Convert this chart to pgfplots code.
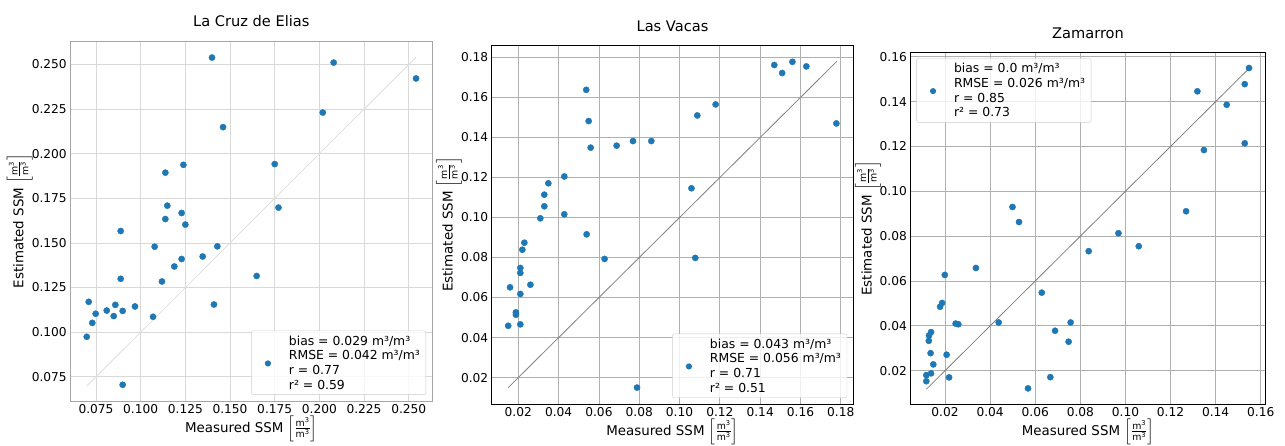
\documentclass[border=0pt]{standalone}
\usepackage{amsmath}
\usepackage{fontspec}
\setmainfont{DejaVu Sans}
\usepackage{pgfplots}
\pgfplotsset{compat=1.18}
\definecolor{mplblue}{HTML}{1F77B4}
\newcommand{\unitfrac}{$\left[\frac{\text{m}^{\text{3}}}{\text{m}^{\text{3}}}\right]$}

\pgfplotsset{
  ssm/.style={
    scale only axis, anchor=south west,
    scaled ticks=false,
    major tick length=0pt,
    grid=major,
    tick label style={font=\fontsize{12.2}{14}\selectfont,
      /pgf/number format/assume math mode=true,
      /pgf/number format/fixed, /pgf/number format/fixed zerofill,
      /pgf/number format/precision=#1},
    label style={font=\fontsize{13.4}{16}\selectfont, inner sep=0pt},
    title style={font=\fontsize{14.6}{17}\selectfont, at={(axis description cs:0.5,1)}, anchor=base},
    xlabel style={at={([yshift=-31pt]axis description cs:0.5,0)}, anchor=base},
    xlabel={Measured SSM \unitfrac},
    ylabel={Estimated SSM \unitfrac},
    legend style={draw=gray!40, fill=white, fill opacity=0.8, text opacity=1,
      rounded corners=2pt, inner xsep=4.5pt, inner ysep=2.5pt,
      nodes={inner sep=1.5pt}, column sep=7.5pt,
      font=\fontsize{12.4}{14.7}\selectfont},
    legend cell align=left,
    legend image code/.code={%
      \path[draw=none, fill=none] (0pt,-3pt) rectangle (24pt,3pt);
      \fill[mplblue, draw=none, fill opacity=1] (12pt,-0.7pt) circle (3.1pt);},
  },
  pts/.style={only marks, mark=*, mark size=3.1pt, color=mplblue},
}

\pgfplotstableread{
x y
0.1399 0.2539
0.2080 0.2511
0.2541 0.2422
0.2019 0.2231
0.1461 0.2149
0.1750 0.1942
0.1239 0.1938
0.1138 0.1894
0.1149 0.1709
0.1771 0.1698
0.1229 0.1668
0.1138 0.1634
0.1250 0.1603
0.0888 0.1567
0.1078 0.1479
0.1429 0.1481
0.1347 0.1424
0.1229 0.1410
0.1188 0.1368
0.0888 0.1299
0.1649 0.1315
0.1119 0.1284
0.0709 0.1170
0.0858 0.1153
0.1410 0.1155
0.0748 0.1103
0.0810 0.1121
0.0899 0.1119
0.0968 0.1144
0.0849 0.1090
0.1069 0.1086
0.0729 0.1052
0.0698 0.0974
0.0899 0.0705
}\cruz

\pgfplotstableread{
x y
0.1470 0.1762
0.1509 0.1722
0.1560 0.1778
0.1629 0.1755
0.1778 0.1470
0.0537 0.1638
0.0549 0.1482
0.0559 0.1349
0.0688 0.1359
0.0769 0.1382
0.0860 0.1382
0.1179 0.1565
0.1088 0.1510
0.1059 0.1146
0.1078 0.0798
0.0428 0.1205
0.0428 0.1016
0.0349 0.1171
0.0329 0.1114
0.0329 0.1056
0.0309 0.0996
0.0539 0.0916
0.0628 0.0793
0.0230 0.0874
0.0220 0.0839
0.0210 0.0748
0.0210 0.0723
0.0260 0.0664
0.0159 0.0651
0.0210 0.0618
0.0188 0.0526
0.0188 0.0514
0.0150 0.0459
0.0210 0.0466
0.0789 0.0150
}\vacas

\pgfplotstableread{
x y
0.1548 0.1550
0.1529 0.1478
0.1319 0.1446
0.1449 0.1386
0.1348 0.1184
0.1529 0.1214
0.1269 0.0911
0.0969 0.0813
0.1059 0.0755
0.0837 0.0733
0.0499 0.0930
0.0528 0.0863
0.0337 0.0658
0.0199 0.0627
0.0187 0.0502
0.0178 0.0485
0.0629 0.0548
0.0438 0.0415
0.0247 0.0410
0.0259 0.0407
0.0757 0.0415
0.0688 0.0378
0.0748 0.0329
0.0138 0.0372
0.0129 0.0357
0.0128 0.0333
0.0136 0.0278
0.0207 0.0271
0.0148 0.0228
0.0138 0.0188
0.0117 0.0180
0.0117 0.0153
0.0218 0.0170
0.0667 0.0171
0.0568 0.0121
}\zamarron

\begin{document}
\begin{tikzpicture}
\path[use as bounding box] (0pt,0pt) rectangle (1285pt,445pt);

% Panel 1
\begin{axis}[ssm=3, at={(70.3pt,44pt)}, width=362pt, height=360pt,
  xmin=0.0606, xmax=0.2632, ymin=0.0614, ymax=0.2632,
  xtick={0.075,0.1,0.125,0.15,0.175,0.2,0.225,0.25},
  ytick={0.075,0.1,0.125,0.15,0.175,0.2,0.225,0.25},
  axis line style={gray!70, line width=0.8pt},
  major grid style={gray!30, line width=0.8pt},
  title={La Cruz de Elias}, title style={yshift=9pt},
  ylabel style={at={([xshift=-47pt]axis description cs:0,0.5)}, anchor=base},
  legend style={at={(axis description cs:0.983,0.017)}, anchor=south east}]
\addplot[gray!25, line width=0.8pt, forget plot] coordinates {(0.0698,0.0698) (0.2541,0.2541)};
\addplot[pts] table[x=x,y=y] {\cruz};
\addlegendentry{\begin{tabular}[b]{@{}l@{}}bias = 0.029 m³/m³\\RMSE = 0.042 m³/m³\\r = 0.77\\r² = 0.59\end{tabular}}
\end{axis}

% Panel 2
\begin{axis}[ssm=2, at={(491.7pt,41pt)}, width=361.6pt, height=359pt,
  xmin=0.0068, xmax=0.1862, ymin=0.0068, ymax=0.1862,
  xtick={0.02,0.04,0.06,0.08,0.1,0.12,0.14,0.16,0.18},
  ytick={0.02,0.04,0.06,0.08,0.1,0.12,0.14,0.16,0.18},
  axis line style={black, line width=0.8pt},
  major grid style={gray!62, line width=0.8pt},
  title={Las Vacas}, title style={yshift=7.3pt},
  ylabel style={at={([xshift=-39pt]axis description cs:0,0.5)}, anchor=base},
  legend style={at={(axis description cs:0.983,0.017)}, anchor=south east}]
\addplot[gray, line width=0.8pt, forget plot] coordinates {(0.015,0.015) (0.178,0.178)};
\addplot[pts] table[x=x,y=y] {\vacas};
\addlegendentry{\begin{tabular}[b]{@{}l@{}}bias = 0.043 m³/m³\\RMSE = 0.056 m³/m³\\r = 0.71\\r² = 0.51\end{tabular}}
\end{axis}

% Panel 3
\begin{axis}[ssm=2, at={(910.3pt,40.7pt)}, width=355.4pt, height=352pt,
  xmin=0.0046, xmax=0.1622, ymin=0.0050, ymax=0.1620,
  xtick={0.02,0.04,0.06,0.08,0.1,0.12,0.14,0.16},
  ytick={0.02,0.04,0.06,0.08,0.1,0.12,0.14,0.16},
  axis line style={black, line width=0.8pt},
  major grid style={gray!62, line width=0.8pt},
  title={Zamarron}, title style={yshift=8pt},
  ylabel style={at={([xshift=-38.6pt]axis description cs:0,0.5)}, anchor=base},
  legend style={at={(axis description cs:0.017,0.983)}, anchor=north west}]
\addplot[gray, line width=0.8pt, forget plot] coordinates {(0.0117,0.0117) (0.1548,0.1548)};
\addplot[pts] table[x=x,y=y] {\zamarron};
\addlegendentry{\begin{tabular}[b]{@{}l@{}}bias = 0.0 m³/m³\\RMSE = 0.026 m³/m³\\r = 0.85\\r² = 0.73\end{tabular}}
\end{axis}
\end{tikzpicture}
\end{document}
